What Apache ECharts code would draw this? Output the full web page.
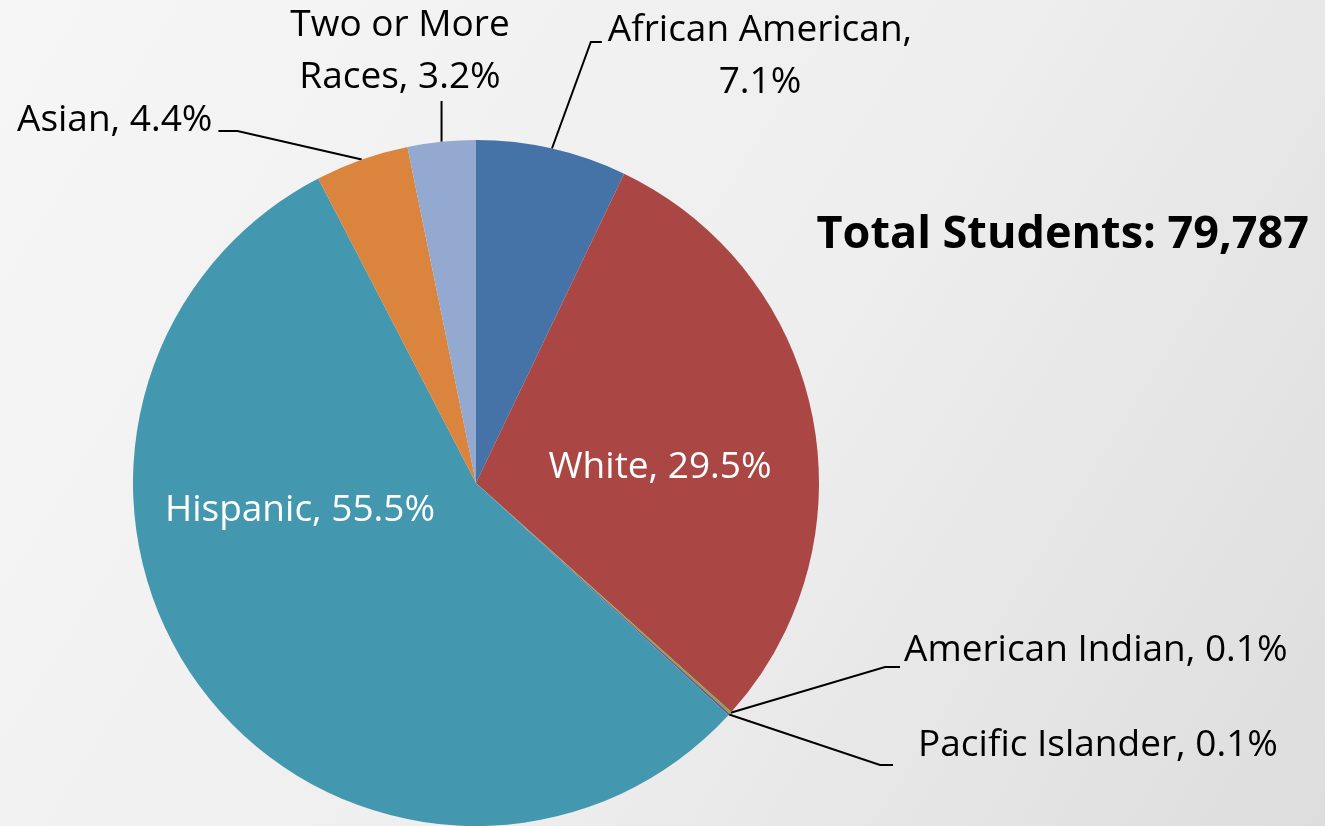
<!DOCTYPE html>
<html><head><meta charset="utf-8">
<script src="https://cdn.jsdelivr.net/npm/echarts@6/dist/echarts.min.js"></script>
<style>html,body{margin:0;padding:0;width:1325px;height:826px;overflow:hidden;background:#eeeeee}#c{width:1325px;height:826px}</style>
</head><body><div id="c"></div>
<script>
const categories = ['African American','White','American Indian','Pacific Islander','Hispanic','Asian','Two or More Races'];
const percents = [7.1, 29.5, 0.1, 0.1, 55.5, 4.4, 3.2];
const labelTexts = ['African American,\n7.1%','White, 29.5%','American Indian, 0.1%','Pacific Islander, 0.1%','Hispanic, 55.5%','Asian, 4.4%','Two or More\nRaces, 3.2%'];
const colors = ['#4673A7','#AA4643','#89A54E','#71588F','#4398AF','#DB843D','#93A9CF'];
const insideSet = {'White':1,'Hispanic':1};
// label placement (annotation layout, not data)
const labelPos = {
  'African American': {x: 760, y: 56, align: 'center', line: {side:'left', dy:-14, gap:6, h:11}},
  'Two or More Races': {x: 400, y: 51, align: 'center', line: {vertical:true, dy:50}},
  'Asian': {x: 17, y: 120, align: 'left', line: {side:'right', dy:11, gap:6, h:19}},
  'American Indian': {x: 904, y: 650, align: 'left', line: {side:'left', dy:17, gap:4, h:15}},
  'Pacific Islander': {x: 918, y: 745, align: 'left', line: {side:'left', dy:20, gap:25, h:13}},
  'White': {x: 660, y: 467, align: 'center'},
  'Hispanic': {x: 300, y: 510, align: 'center'}
};
const chart = echarts.init(document.getElementById('c'));
const FONT = 'Open Sans';
chart.setOption({
  backgroundColor: {type:'linear', x:0, y:0, x2:1, y2:1, colorStops:[{offset:0,color:'#f6f6f6'},{offset:0.55,color:'#eeeeee'},{offset:1,color:'#dddddd'}]},
  title: {text:'Total Students: 79,787', right: 11, top: 208,
    textStyle:{fontFamily:FONT, fontWeight:'bold', fontSize:45, color:'#000'}},
  series: [{
    type:'pie', center:[476,483], radius:343, startAngle:90, clockwise:true,
    avoidLabelOverlap:false, animation:false,
    data: categories.map((n,i)=>({
      name:n, value:percents[i], itemStyle:{color:colors[i]},
      label: insideSet[n] ? {position:'inside', color:'#fff', formatter: labelTexts[i]} : {position:'outside', formatter: labelTexts[i]},
      labelLine: insideSet[n] ? {show:false} : {show:true}
    })),
    label:{fontFamily:FONT, fontSize:37, color:'#000', lineHeight:52},
    labelLine:{show:true, length:20, length2:15, lineStyle:{color:'#000', width:2}},
    labelLayout: function(p){
      const n = categories[p.dataIndex];
      const lp = labelPos[n];
      if (!lp) return {};
      const res = {x: lp.x, y: lp.y, align: lp.align, verticalAlign: 'middle'};
      const pts = p.labelLinePoints;
      const r = p.labelRect;
      if (lp.line && pts && pts.length) {
        const p0 = pts[0];
        const left = lp.align === 'center' ? lp.x - r.width/2 : lp.x;
        const ey = lp.y + lp.line.dy;
        if (lp.line.vertical) {
          res.labelLinePoints = [[p0[0],p0[1]], [p0[0], ey], [p0[0], ey]];
        } else if (lp.line.side === 'right') {
          const ex = left + r.width + lp.line.gap;
          res.labelLinePoints = [[p0[0],p0[1]], [ex + lp.line.h, ey], [ex, ey]];
        } else {
          const ex = left - lp.line.gap;
          res.labelLinePoints = [[p0[0],p0[1]], [ex - lp.line.h, ey], [ex, ey]];
        }
      }
      return res;
    }
  }]
});
</script></body></html>
